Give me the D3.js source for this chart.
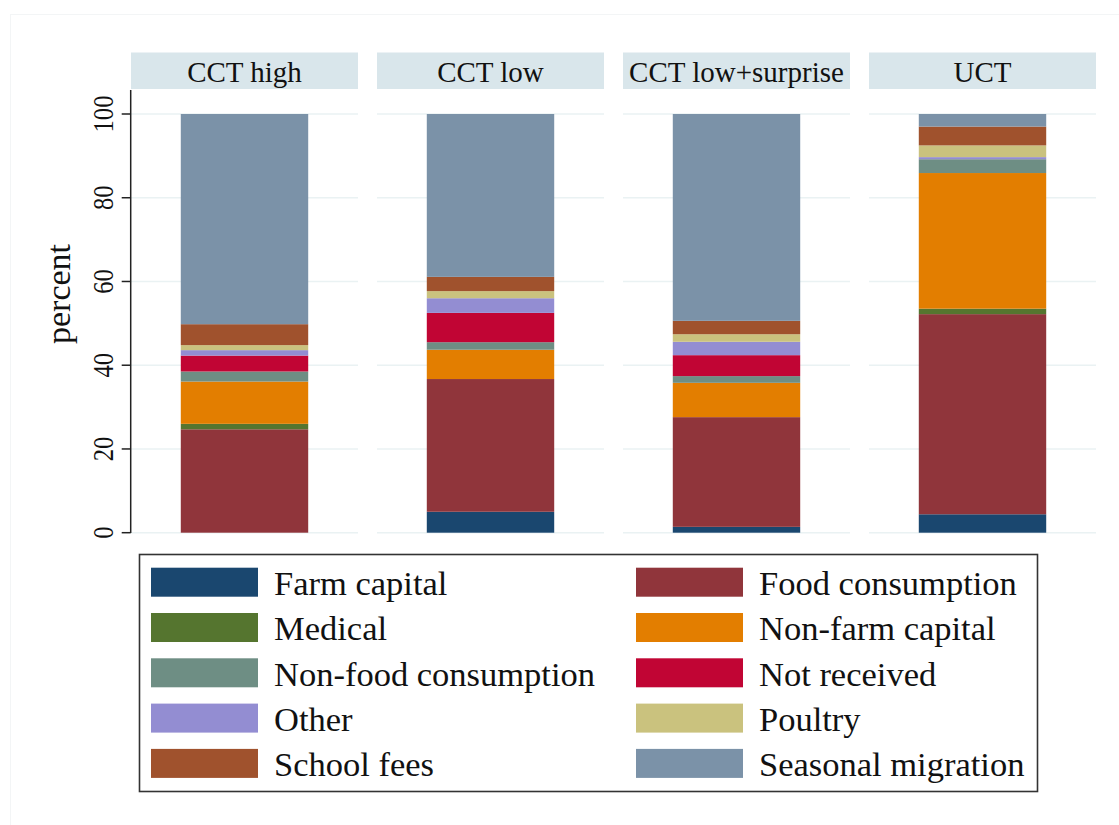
<!DOCTYPE html>
<html>
<head>
<meta charset="utf-8">
<script src="https://cdn.jsdelivr.net/npm/d3@7"></script>
<style>
  html, body { margin: 0; padding: 0; background: #ffffff; }
  svg { display: block; font-family: "Liberation Serif", "Times New Roman", serif; }
</style>
</head>
<body>
<svg id="chart" width="1119" height="825"></svg>
<script>
// Treatment arms (one panel each)
const groups = ["CCT high", "CCT low", "CCT low+surprise", "UCT"];

// Uses of the transfer, stacked bottom to top
const categories = [
  "Farm capital", "Food consumption", "Medical", "Non-farm capital",
  "Non-food consumption", "Not received", "Other", "Poultry",
  "School fees", "Seasonal migration"
];

// Percent of respondents per use, one value per arm (same order as groups)
const farmCapital        = [0.0, 5.0, 1.4, 4.4];
const foodConsumption    = [24.7, 31.7, 26.2, 47.8];
const medical            = [1.3, 0.0, 0.0, 1.3];
const nonFarmCapital     = [10.1, 7.0, 8.2, 32.4];
const nonFoodConsumption = [2.4, 1.8, 1.6, 3.3];
const notReceived        = [3.8, 7.0, 5.0, 0.0];
const other              = [1.3, 3.5, 3.2, 0.5];
const poultry            = [1.2, 1.7, 1.8, 2.8];
const schoolFees         = [5.0, 3.4, 3.2, 4.5];
const seasonalMigration  = [50.2, 38.9, 49.4, 3.0];

const yTicks = [0, 20, 40, 60, 80, 100];

const seriesValues = [
  farmCapital, foodConsumption, medical, nonFarmCapital, nonFoodConsumption,
  notReceived, other, poultry, schoolFees, seasonalMigration
];

const colors = [
  "#1a476f", "#90353b", "#55752f", "#e37e00", "#6e8e84",
  "#c10534", "#938dd2", "#cac27e", "#a0522d", "#7b92a8"
];

// Rows for d3.stack
const rows = groups.map((g, i) => {
  const r = { group: g };
  categories.forEach((c, k) => { r[c] = seriesValues[k][i]; });
  return r;
});

const svg = d3.select("#chart");

// Faint outer frame of the graph region
svg.append("rect")
  .attr("x", 10.5).attr("y", 14.5).attr("width", 1130).attr("height", 830)
  .attr("fill", "none").attr("stroke", "#f3f5f6").attr("stroke-width", 1);

const plotTop = 90, plotBottom = 533;
const headerTop = 52.5;

const xPanel = d3.scaleBand().domain(groups).range([131, 1096])
  .paddingInner(19 / 246).paddingOuter(0);
const xBar = d3.scaleBand().domain(["bar"]).range([0, xPanel.bandwidth()]).padding(0.281);
const y = d3.scaleLinear().domain([0, 100]).range([532.7, 114]);
const color = d3.scaleOrdinal().domain(categories).range(colors);

const stack = d3.stack().keys(categories);
const stacked = stack(rows);

// Panels: header strip and gridlines
const panel = svg.selectAll("g.panel").data(groups).join("g")
  .attr("class", "panel")
  .attr("transform", d => `translate(${xPanel(d)},0)`);

panel.append("rect")
  .attr("x", 0).attr("y", headerTop)
  .attr("width", xPanel.bandwidth()).attr("height", plotTop - headerTop - 1)
  .attr("fill", "#d9e6eb");

panel.append("text")
  .attr("x", xPanel.bandwidth() / 2).attr("y", 81.5)
  .attr("text-anchor", "middle")
  .attr("font-size", 29).attr("fill", "#111")
  .text(d => d);

panel.selectAll("line.grid").data(yTicks).join("line")
  .attr("class", "grid")
  .attr("x1", 0).attr("x2", xPanel.bandwidth())
  .attr("y1", d => y(d)).attr("y2", d => y(d))
  .attr("stroke", "#eaf2f3").attr("stroke-width", 1.5);

// Stacked bars
svg.append("g").selectAll("g.layer").data(stacked).join("g")
  .attr("class", "layer")
  .attr("fill", d => color(d.key))
  .selectAll("rect").data(d => d).join("rect")
  .attr("x", d => xPanel(d.data.group) + xBar("bar"))
  .attr("width", xBar.bandwidth())
  .attr("y", d => y(d[1]))
  .attr("height", d => Math.max(0, y(d[0]) - y(d[1])));

// Y axis
const axisX = 130.7;
const yAxis = svg.append("g").attr("transform", `translate(${axisX},0)`);
yAxis.append("line")
  .attr("x1", 0).attr("x2", 0).attr("y1", plotTop).attr("y2", plotBottom)
  .attr("stroke", "#222").attr("stroke-width", 1.5);
yAxis.selectAll("line.tick").data(yTicks).join("line")
  .attr("class", "tick")
  .attr("x1", -9).attr("x2", 0)
  .attr("y1", d => y(d)).attr("y2", d => y(d))
  .attr("stroke", "#222").attr("stroke-width", 1.5);
yAxis.selectAll("text").data(yTicks).join("text")
  .attr("transform", d => `translate(${113 - axisX},${y(d)}) rotate(-90) scale(0.82,1)`)
  .attr("text-anchor", "middle")
  .attr("font-size", 30).attr("fill", "#111")
  .text(d => d);

svg.append("text")
  .attr("transform", "translate(69.5,294) rotate(-90)")
  .attr("text-anchor", "middle")
  .attr("font-size", 34).attr("fill", "#111")
  .text("percent");

// Legend
const legend = svg.append("g");
legend.append("rect")
  .attr("x", 139.5).attr("y", 554.5).attr("width", 898).attr("height", 237)
  .attr("fill", "#fff").attr("stroke", "#333").attr("stroke-width", 1.6);

const legendCol = [151, 636];
const item = legend.selectAll("g.item").data(categories).join("g")
  .attr("class", "item")
  .attr("transform", (d, i) => `translate(${legendCol[i % 2]},${567.7 + Math.floor(i / 2) * 45.3})`);
item.append("rect")
  .attr("width", 107).attr("height", 29)
  .attr("fill", d => color(d));
item.append("text")
  .attr("x", 123).attr("y", 27.3)
  .attr("font-size", 34.5).attr("fill", "#111")
  .text(d => d);
</script>
</body>
</html>
